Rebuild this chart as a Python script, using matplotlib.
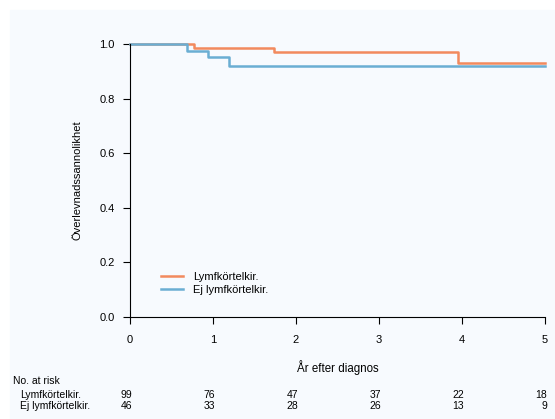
import matplotlib
matplotlib.use("Agg")
import matplotlib.pyplot as plt
from matplotlib.patches import Rectangle

plt.rcParams['font.family'] = ['Liberation Sans', 'DejaVu Sans']
plt.rcParams['font.size'] = 8

# Kaplan-Meier steg (tid, överlevnad)
lymf_t = [0, 0.77, 1.74, 3.95, 5.0]
lymf_s = [1.0, 0.987, 0.971, 0.929, 0.929]
ej_t = [0, 0.69, 0.94, 1.19, 5.0]
ej_s = [1.0, 0.976, 0.951, 0.920, 0.920]

risk_times = [0, 1, 2, 3, 4, 5]
risk_lymf = [99, 76, 47, 37, 22, 18]
risk_ej = [46, 33, 28, 26, 13, 9]
group_names = ["Lymfkörtelkir.", "Ej lymfkörtelkir."]

orange = "#F28A5E"
blue = "#6AAED3"
bg = "#F7FAFE"

W, H = 555, 419
fig = plt.figure(figsize=(W / 100, H / 100), dpi=100)
fig.patches.append(Rectangle((10 / W, 0), 1 - 10 / W, 1 - 10 / H,
                             transform=fig.transFigure, color=bg, zorder=-10))

ax = fig.add_axes([130 / W, 1 - 317 / H, 415 / W, 273 / H])
ax.set_facecolor("none")
ax.step(lymf_t, lymf_s, where="post", color=orange, lw=1.8, clip_on=False, label=group_names[0])
ax.step(ej_t, ej_s, where="post", color=blue, lw=1.8, clip_on=False, label=group_names[1])

ax.set_xlim(0, 5)
ax.set_ylim(0, 1)
ax.set_xticks(risk_times)
ax.set_yticks([0, 0.2, 0.4, 0.6, 0.8, 1.0])
ax.set_yticklabels(["0.0", "0.2", "0.4", "0.6", "0.8", "1.0"])
for s in ["top", "right"]:
    ax.spines[s].set_visible(False)
for s in ["left", "bottom"]:
    ax.spines[s].set_linewidth(0.8)
ax.tick_params(length=5, width=0.8, labelsize=8)
ax.tick_params(axis="y", pad=6)
ax.tick_params(axis="x", pad=8)
ax.set_ylabel("Överlevnadssannolikhet", labelpad=12, fontsize=8)
ax.set_xlabel("År efter diagnos", labelpad=11, fontsize=8.3)

ax.legend(loc="lower left", bbox_to_anchor=(0.075, 0.08), frameon=False,
          borderpad=0, borderaxespad=0,
          handlelength=2.0, handletextpad=0.9, labelspacing=0.3, fontsize=8)

# tabell med antal i risk
fs = 7.5
fig.text(13 / W, 1 - 381 / H, "No. at risk", fontsize=fs, va="center")
for row, (name, vals) in enumerate(zip(group_names, [risk_lymf, risk_ej])):
    y = 1 - (394.5 + row * 11) / H
    fig.text(20 / W, y, name, fontsize=fs, va="center")
    for t, v in zip(risk_times, vals):
        x = ax.transData.transform((t, 0))[0] / W + 2 / W
        fig.text(x, y, str(v), fontsize=fs, va="center", ha="right")

fig.savefig("out.png", dpi=100)
